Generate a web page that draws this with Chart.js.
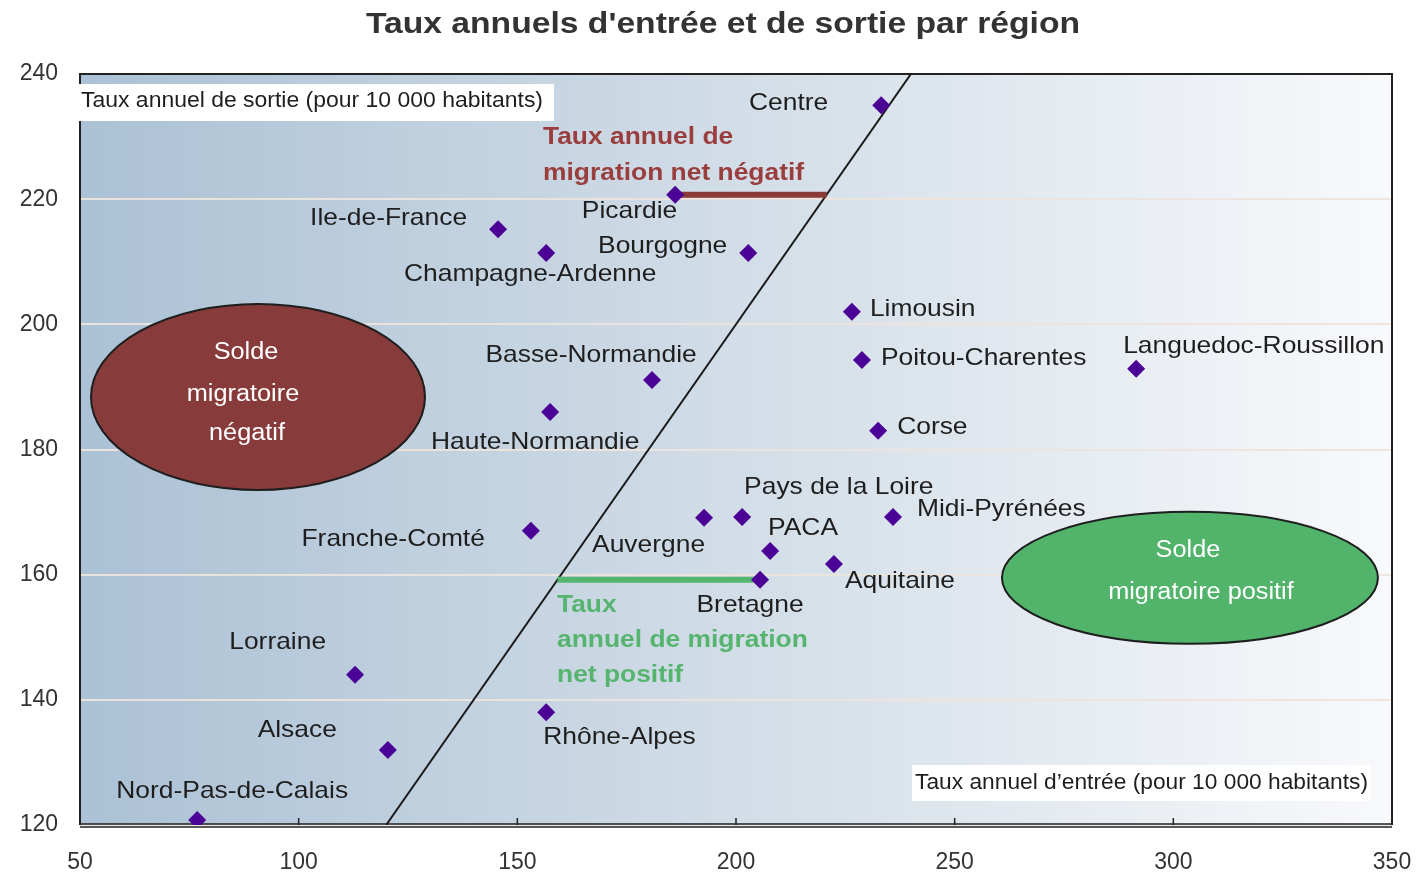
<!DOCTYPE html>
<html lang="fr">
<head>
<meta charset="utf-8">
<script src="https://cdn.jsdelivr.net/npm/chart.js@4.4.1/dist/chart.umd.min.js"></script>
<style>
  html, body { margin: 0; padding: 0; background: #fff; }
  #zone { width: 1419px; height: 885px; }
</style>
</head>
<body>
<div id="zone"><canvas id="graphique" width="1419" height="885"></canvas></div>
<script>
const regions = ['Centre', 'Picardie', 'Ile-de-France', 'Champagne-Ardenne', 'Bourgogne', 'Limousin',
  'Poitou-Charentes', 'Languedoc-Roussillon', 'Basse-Normandie', 'Haute-Normandie', 'Corse',
  'Pays de la Loire', 'Auvergne', 'Midi-Pyrénées', 'Franche-Comté', 'PACA', 'Aquitaine', 'Bretagne',
  'Lorraine', 'Rhône-Alpes', 'Alsace', 'Nord-Pas-de-Calais']
const tauxEntree = [233.2, 186.1, 145.6, 156.6, 202.8, 226.5, 228.8, 291.5, 180.8, 157.5, 232.5,
  201.4, 192.7, 235.9, 153.1, 207.8, 222.4, 205.5, 112.9, 156.6, 120.4, 76.8]
const tauxSortie = [235.0, 220.7, 215.2, 211.4, 211.4, 202.0, 194.3, 192.9, 191.1, 186.0, 183.0,
  169.2, 169.1, 169.2, 167.0, 163.8, 161.7, 159.2, 144.0, 138.0, 132.0, 120.8]
const diagonale = [120, 240]
const bornesX = [50, 350]
const bornesY = [120, 240]
const titre = "Taux annuels d'entrée et de sortie par région"
const titreY = 'Taux annuel de sortie (pour 10 000 habitants)'
const titreX = 'Taux annuel d’entrée (pour 10 000 habitants)'

// placement des etiquettes autour des points : [dx, dy, alignement]
const placement = {
  'Centre': [-53, -2, 'right'], 'Picardie': [2, 17, 'right'], 'Ile-de-France': [-31, -11, 'right'],
  'Champagne-Ardenne': [-16, 21, 'center'], 'Bourgogne': [-21, -7, 'right'], 'Limousin': [18, -2, 'left'],
  'Poitou-Charentes': [19, -2, 'left'], 'Languedoc-Roussillon': [-13, -22, 'left'],
  'Basse-Normandie': [-61, -25, 'center'], 'Haute-Normandie': [-15, 30, 'center'], 'Corse': [19, -3, 'left'],
  'Pays de la Loire': [2, -30, 'left'], 'Auvergne': [1, 28, 'right'], 'Midi-Pyrénées': [24, -8, 'left'],
  'Franche-Comté': [-46, 9, 'right'], 'PACA': [-2, -23, 'left'], 'Aquitaine': [11, 17, 'left'],
  'Bretagne': [-10, 26, 'center'], 'Lorraine': [-29, -32, 'right'], 'Rhône-Alpes': [-3, 25, 'left'],
  'Alsace': [-51, -20, 'right'], 'Nord-Pas-de-Calais': [35, -29, 'center']
}

const bulles = [
  { cx: 90.7, cy: 188.4, rx: 167, ry: 93, fond: '#873b3b',
    lignes: [['Solde', -12, -44], ['migratoire', -15, -2], ['négatif', -11, 37]] },
  { cx: 303.8, cy: 159.5, rx: 188, ry: 66, fond: '#52b36b',
    lignes: [['Solde', -2, -27], ['migratoire positif', 11, 15]] }
]

const notes = [
  { couleur: '#9a3d3d', x: 543, y: 137, lignes: ['Taux annuel de', 'migration net négatif'], pas: 36 },
  { couleur: '#55b46e', x: 557, y: 605, lignes: ['Taux', 'annuel de migration', 'net positif'], pas: 35 }
]

const police = '"Liberation Sans", Arial, sans-serif'
const etirement = 1.1

const points = regions.map((r, i) => ({ x: tauxEntree[i], y: tauxSortie[i] }))
const picardie = points[regions.indexOf('Picardie')]
const bretagne = points[regions.indexOf('Bretagne')]

function ecrire(ctx, txt, x, y, align, sx) {
  ctx.save()
  ctx.translate(x, y)
  ctx.scale(sx, 1)
  ctx.textAlign = align
  ctx.textBaseline = 'middle'
  ctx.fillText(txt, 0, 0)
  ctx.restore()
}

function ecrireLargeur(ctx, txt, x, y, largeur) {
  let w = ctx.measureText(txt).width
  ecrire(ctx, txt, x, y, 'left', largeur / w)
}

const fond = {
  id: 'fond',
  beforeDraw(chart) {
    const { ctx, chartArea: a } = chart
    ctx.save()
    ctx.fillStyle = '#fff'
    ctx.fillRect(0, 0, chart.width, chart.height)
    let g = ctx.createLinearGradient(a.left, 0, a.right, 0)
    g.addColorStop(0, '#abc1d5')
    g.addColorStop(0.5, '#d2dde7')
    g.addColorStop(1, '#f8f9fb')
    ctx.fillStyle = g
    ctx.fillRect(a.left, a.top, a.right - a.left, a.bottom - a.top)
    ctx.fillStyle = '#333'
    ctx.font = 'bold 29px ' + police
    ecrire(ctx, titre, 723, 25, 'center', 1.16)
    ctx.restore()
  }
}

const cadre = {
  id: 'cadre',
  beforeDatasetsDraw(chart) {
    const { ctx, chartArea: a, scales } = chart
    ctx.save()
    ctx.strokeStyle = '#222'
    ctx.lineWidth = 2
    ctx.beginPath()
    ctx.moveTo(a.left, a.bottom)
    ctx.lineTo(a.left, a.top)
    ctx.lineTo(a.right, a.top)
    ctx.lineTo(a.right, a.bottom)
    ctx.stroke()
    ctx.lineWidth = 1.5
    ctx.beginPath()
    ctx.moveTo(a.left, a.bottom - 1)
    ctx.lineTo(a.right, a.bottom - 1)
    ctx.moveTo(a.left, a.bottom + 2)
    ctx.lineTo(a.right, a.bottom + 2)
    scales.x.ticks.forEach(t => {
      let px = scales.x.getPixelForValue(t.value)
      ctx.moveTo(px, a.bottom)
      ctx.lineTo(px, a.bottom - 7)
    })
    ctx.stroke()

    bulles.forEach(b => {
      let cx = scales.x.getPixelForValue(b.cx)
      let cy = scales.y.getPixelForValue(b.cy)
      ctx.beginPath()
      ctx.ellipse(cx, cy, b.rx, b.ry, 0, 0, Math.PI * 2)
      ctx.fillStyle = b.fond
      ctx.fill()
      ctx.lineWidth = 2
      ctx.strokeStyle = '#1e1e1e'
      ctx.stroke()
      ctx.fillStyle = '#fff'
      ctx.font = '23px ' + police
      b.lignes.forEach(([txt, dx, dy]) => ecrire(ctx, txt, cx + dx, cy + dy, 'center', etirement))
    })

    ctx.font = '22px ' + police
    ctx.fillStyle = '#fff'
    ctx.fillRect(a.left - 2, a.top + 10, 476, 37)
    ctx.fillRect(912, a.bottom - 60, 458, 36)
    ctx.fillStyle = '#1e1e1e'
    ecrireLargeur(ctx, titreY, a.left + 1, a.top + 27, 462)
    ecrireLargeur(ctx, titreX, 915, a.bottom - 42, 453)
    ctx.restore()
  }
}

const etiquettes = {
  id: 'etiquettes',
  afterDatasetsDraw(chart) {
    const { ctx } = chart
    const meta = chart.getDatasetMeta(0)
    ctx.save()
    ctx.fillStyle = '#1e1e1e'
    ctx.font = '24px ' + police
    meta.data.forEach((pt, i) => {
      let [dx, dy, align] = placement[regions[i]]
      ecrire(ctx, regions[i], pt.x + dx, pt.y + dy, align, etirement)
    })
    ctx.font = 'bold 24px ' + police
    notes.forEach(n => {
      ctx.fillStyle = n.couleur
      n.lignes.forEach((l, j) => ecrire(ctx, l, n.x, n.y + j * n.pas, 'left', etirement))
    })
    ctx.restore()
  }
}

const graphique = new Chart(document.getElementById('graphique'), {
  type: 'scatter',
  data: {
    datasets: [{
      label: 'Régions',
      data: points,
      pointStyle: 'rectRot',
      pointRadius: 9,
      pointHoverRadius: 9,
      backgroundColor: '#4b0096',
      borderColor: '#4b0096',
      borderWidth: 0,
      order: 0
    }, {
      label: 'Diagonale',
      data: diagonale.map(v => ({ x: v, y: v })),
      showLine: true,
      pointRadius: 0,
      borderColor: '#1a1a1a',
      borderWidth: 2,
      order: 2
    }, {
      label: 'Migration nette négative',
      data: [{ x: picardie.x, y: picardie.y }, { x: picardie.y, y: picardie.y }],
      showLine: true,
      pointRadius: 0,
      borderColor: '#8b3a3a',
      borderWidth: 6,
      order: 1
    }, {
      label: 'Migration nette positive',
      data: [{ x: bretagne.y, y: bretagne.y }, { x: bretagne.x, y: bretagne.y }],
      showLine: true,
      pointRadius: 0,
      borderColor: '#55b46e',
      borderWidth: 6,
      order: 1
    }]
  },
  options: {
    responsive: false,
    animation: false,
    devicePixelRatio: 1,
    layout: { padding: { top: 74, right: 27, left: 0, bottom: 0 } },
    plugins: {
      legend: { display: false },
      tooltip: { enabled: false },
      title: { display: false }
    },
    scales: {
      x: {
        type: 'linear',
        min: bornesX[0],
        max: bornesX[1],
        afterFit: s => { s.height = 60; s.paddingLeft = 0; s.paddingRight = 0 },
        border: { display: false },
        grid: { display: false, drawTicks: false },
        ticks: { stepSize: 50, padding: 24, color: '#333', font: { family: police, size: 23 } }
      },
      y: {
        min: bornesY[0],
        max: bornesY[1],
        afterFit: s => { s.width = 80 },
        border: { display: false },
        grid: { color: 'rgba(236,228,220,0.95)', lineWidth: 2, drawTicks: false },
        ticks: { stepSize: 20, padding: 22, color: '#333', font: { family: police, size: 23 } }
      }
    }
  },
  plugins: [fond, cadre, etiquettes]
})
</script>
</body>
</html>
